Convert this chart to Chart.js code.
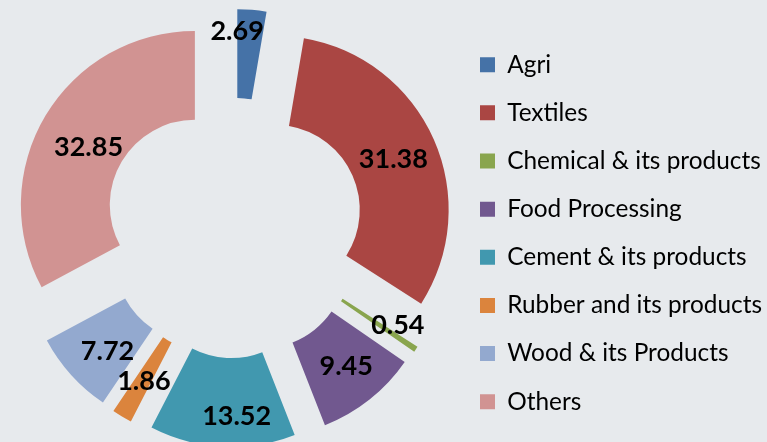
<!DOCTYPE html>
<html>
<head>
<meta charset="utf-8">
<script src="https://cdn.jsdelivr.net/npm/chart.js@4"></script>
<style>
  html, body { margin: 0; padding: 0; background: #e7eaed; }
  #wrap { width: 767px; height: 442px; position: relative; }
</style>
</head>
<body>
<div id="wrap"><canvas id="sectorChart"></canvas></div>
<script>
// Sector shares (%)
const sectors = ['Agri', 'Textiles', 'Chemical & its products', 'Food Processing',
  'Cement & its products', 'Rubber and its products', 'Wood & its Products', 'Others'];
const shares = [2.69, 31.38, 0.54, 9.45, 13.52, 1.86, 7.72, 32.85];
const sectorColors = ['#4572a7', '#aa4643', '#89a54e', '#71588f', '#4198af', '#db843d', '#93a9cf', '#d19392'];

// label placement tweaks (px outward from ring middle, degrees turn)
const labelPush = [68, 45, 61, 48, 58, 47, 46, 37];
const labelTurn = [-3.8, 0.2, -3.2, -1, -3.9, -0.1, -2, -1.4];

// every slice pulled straight out the same distance (exploded doughnut)
const explode = 45;
const chartDrop = 7;
const legendDrop = 12.2;

const explodeSlices = {
  id: 'explodeSlices',
  afterLayout(chart) {
    chart.chartArea.top += chartDrop;
    chart.chartArea.bottom += chartDrop;
    chart.legend.top += legendDrop;
    chart.legend.bottom += legendDrop;
  },
  beforeDatasetsDraw(chart) {
    chart.getDatasetMeta(0).data.forEach(arc => {
      if (arc._exploded) return;
      const baseDraw = arc.draw;
      arc.draw = function (ctx, area) {
        const mid = (this.startAngle + this.endAngle) / 2;
        ctx.save();
        ctx.translate(Math.cos(mid) * explode, Math.sin(mid) * explode);
        baseDraw.call(this, ctx, area);
        ctx.restore();
      };
      arc._exploded = true;
    });
  }
};

const sliceLabels = {
  id: 'sliceLabels',
  afterDatasetsDraw(chart) {
    const ctx = chart.ctx;
    const arcs = chart.getDatasetMeta(0).data;
    ctx.save();
    ctx.font = 'bold 27px Lato';
    ctx.fillStyle = '#000';
    ctx.textAlign = 'center';
    ctx.textBaseline = 'alphabetic';
    arcs.forEach((arc, i) => {
      const mid = (arc.startAngle + arc.endAngle) / 2 + labelTurn[i] * Math.PI / 180;
      const r = (arc.innerRadius + arc.outerRadius) / 2 + labelPush[i];
      // digits are ~0.72em tall, so drop the baseline by half of that
      ctx.fillText(shares[i].toFixed(2), arc.x + Math.cos(mid) * r, arc.y + Math.sin(mid) * r + 9.5);
    });
    ctx.restore();
  }
};

const ctxSector = document.getElementById('sectorChart').getContext('2d');
new Chart(ctxSector, {
  type: 'doughnut',
  data: {
    labels: sectors,
    datasets: [{
      data: shares,
      backgroundColor: sectorColors,
      borderWidth: 0,
      hoverOffset: 0,
      clip: false
    }]
  },
  options: {
    responsive: true,
    maintainAspectRatio: false,
    animation: false,
    radius: 174,
    cutout: '48.9%',
    layout: { padding: { left: 10.75, right: 0, top: 0, bottom: 0 } },
    plugins: {
      tooltip: { enabled: false },
      legend: {
        position: 'right',
        maxWidth: 310.75,
        labels: {
          boxWidth: 15,
          boxHeight: 15,
          padding: 23.75,
          color: '#000',
          font: { family: 'Lato', size: 24.4 }
        }
      }
    }
  },
  plugins: [explodeSlices, sliceLabels]
});
</script>
</body>
</html>
